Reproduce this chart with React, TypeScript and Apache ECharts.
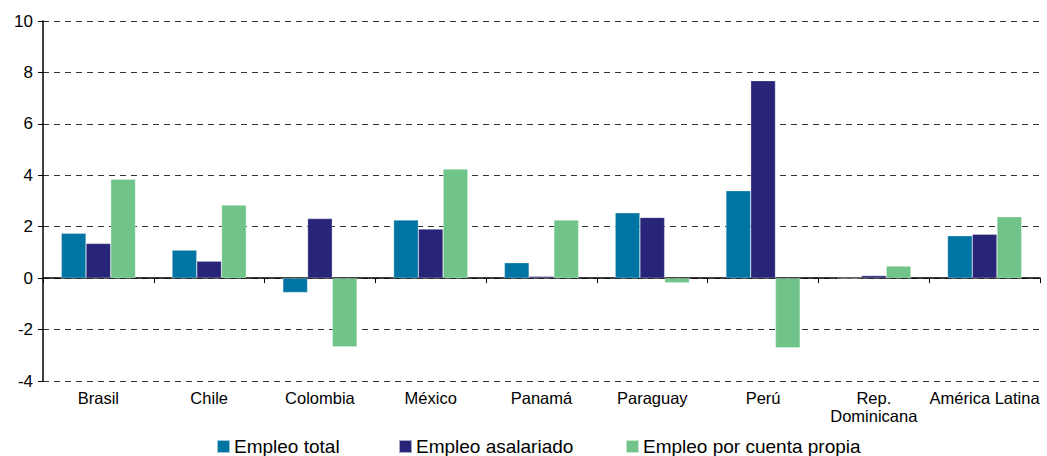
import React, { useEffect, useRef } from "react";
import * as echarts from "echarts";

const categories = ["Brasil", "Chile", "Colombia", "México", "Panamá", "Paraguay", "Perú", "Rep.\nDominicana", "América Latina"];
const empleoTotal = [1.75, 1.09, -0.56, 2.26, 0.6, 2.54, 3.4, 0, 1.65];
const empleoAsalariado = [1.35, 0.66, 2.32, 1.91, 0.07, 2.36, 7.68, 0.1, 1.71];
const empleoPropia = [3.85, 2.84, -2.67, 4.24, 2.26, -0.18, -2.71, 0.47, 2.39];
const seriesNames = ["Empleo total", "Empleo asalariado", "Empleo por cuenta propia"];
const colors = ["#0075A3", "#282578", "#70C489"];

export default function App() {
  const ref = useRef<HTMLDivElement>(null);
  useEffect(() => {
    const chart = echarts.init(ref.current!, null, { renderer: "svg" });
    const font = "'Liberation Sans', Arial, sans-serif";
    const mk = (name: string, data: number[], i: number) => ({
      name,
      type: "bar",
      data,
      xAxisIndex: 0,
      barGap: "0%",
      barCategoryGap: "33%",
      itemStyle: { color: colors[i], borderColor: "rgba(255,255,255,0.6)", borderWidth: 0.5 },
    });
    const legendLefts = [216, 398, 625];
    chart.setOption({
      animation: false,
      textStyle: { fontFamily: font },
      grid: { left: 43, right: 7, top: 21, bottom: 75 },
      legend: seriesNames.map((n, i) => ({
        top: 437,
        left: legendLefts[i],
        padding: 0,
        itemWidth: 13,
        itemHeight: 13,
        itemGap: 4,
        icon: "rect",
        textStyle: { fontSize: 19, color: "#000", fontFamily: font, padding: [0, 0, 0, -1] },
        data: [n],
      })),
      xAxis: [
        {
          type: "category",
          data: categories,
          axisLine: { onZero: true, lineStyle: { color: "#000", width: 1.5 } },
          axisTick: { show: true, length: 5, lineStyle: { color: "#000" } },
          axisLabel: { show: false },
        },
        {
          type: "category",
          data: categories,
          position: "bottom",
          axisLine: { show: false, onZero: false },
          axisTick: { show: false },
          axisLabel: { color: "#000", fontSize: 16.5, fontFamily: font, margin: 8, lineHeight: 18, interval: 0 },
        },
      ],
      yAxis: {
        type: "value",
        min: -4,
        max: 10,
        interval: 2,
        axisLine: { show: true, lineStyle: { color: "#000", width: 1.5 } },
        axisTick: { show: true, length: 5, lineStyle: { color: "#000" } },
        axisLabel: { color: "#000", fontSize: 17, fontFamily: font, margin: 10 },
        splitLine: { show: true, lineStyle: { color: "#333", type: [6, 5], width: 1 } },
      },
      series: [
        mk(seriesNames[0], empleoTotal, 0),
        mk(seriesNames[1], empleoAsalariado, 1),
        mk(seriesNames[2], empleoPropia, 2),
      ],
    });
    return () => chart.dispose();
  }, []);
  return <div ref={ref} style={{ width: 1047, height: 456, position: "absolute", left: 0, top: 0 }} />;
}
